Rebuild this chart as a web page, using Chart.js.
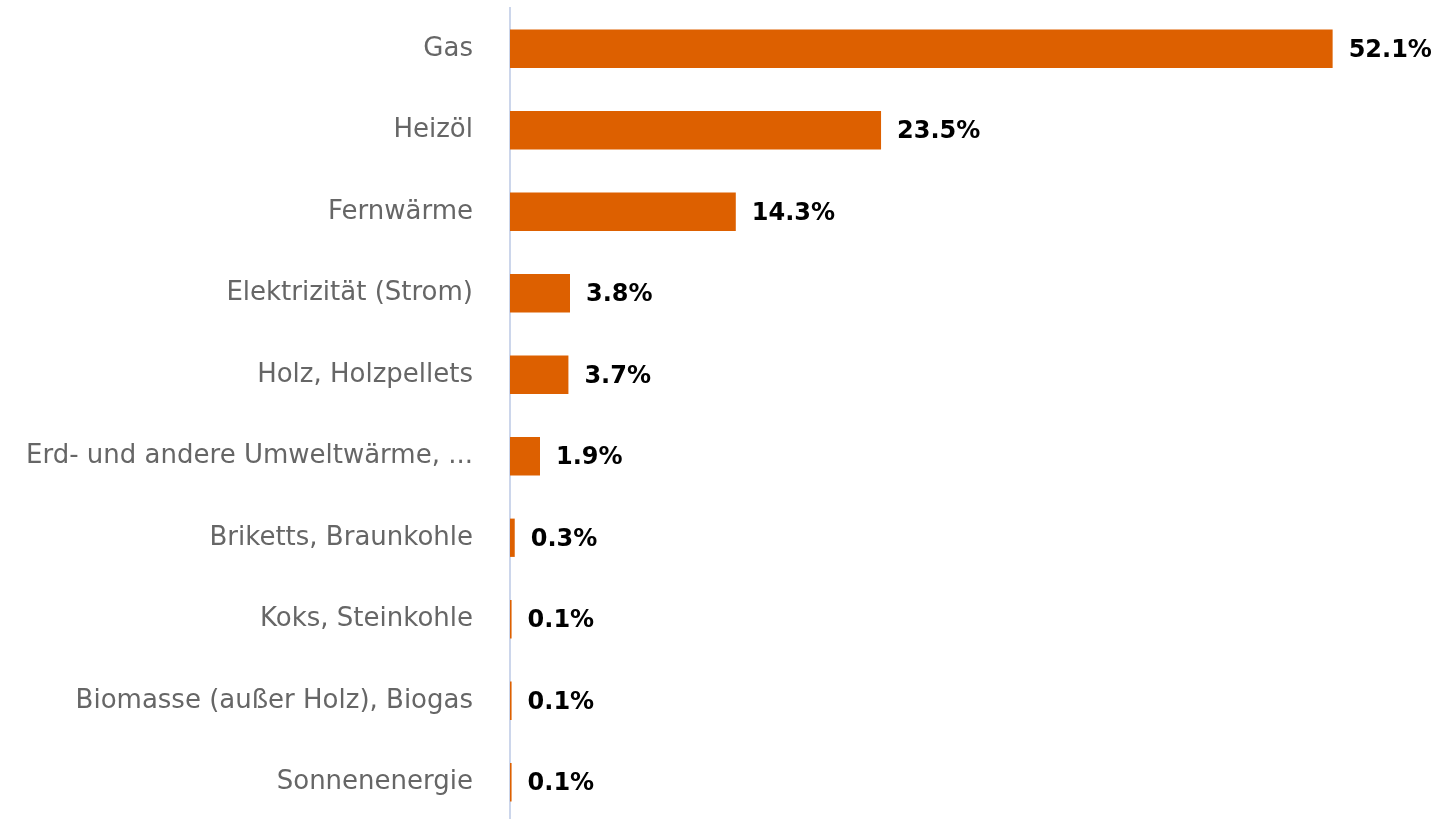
<!DOCTYPE html>
<html>
<head>
<meta charset="utf-8">
<script src="https://cdn.jsdelivr.net/npm/chart.js@4/dist/chart.umd.min.js"></script>
<style>
    html, body { margin: 0; padding: 0; background: #ffffff; overflow: hidden; }
    #wrap { position: relative; width: 1440px; height: 826px; }
</style>
</head>
<body>
<div id="wrap"><canvas id="myChart"></canvas></div>
<script>
// Energy sources and shares (%)
var categories = [
    "Gas",
    "Heizöl",
    "Fernwärme",
    "Elektrizität (Strom)",
    "Holz, Holzpellets",
    "Erd- und andere Umweltwärme, ...",
    "Briketts, Braunkohle",
    "Koks, Steinkohle",
    "Biomasse (außer Holz), Biogas",
    "Sonnenenergie"
];
var shares = [52.1, 23.5, 14.3, 3.8, 3.7, 1.9, 0.3, 0.1, 0.1, 0.1];

// Draws the value label at the end of each bar
var valueLabels = {
    id: "valueLabels",
    afterDatasetsDraw(chart) {
        const ctx = chart.ctx;
        const meta = chart.getDatasetMeta(0);
        ctx.save();
        ctx.font = "bold 24px 'DejaVu Sans'";
        ctx.fillStyle = "#000000";
        ctx.textAlign = "left";
        ctx.textBaseline = "middle";
        meta.data.forEach((bar, i) => {
            ctx.fillText(shares[i].toFixed(1) + "%", bar.x + 16, bar.y + 2);
        });
        ctx.restore();
    }
};

const config = {
    type: "bar",
    data: {
        labels: categories,
        datasets: [{
            data: shares,
            backgroundColor: "#dd6000",
            borderWidth: 0,
            categoryPercentage: 1,
            barPercentage: 0.47
        }]
    },
    options: {
        indexAxis: "y",
        responsive: true,
        maintainAspectRatio: false,
        animation: false,
        layout: { padding: { top: 8, right: 0, bottom: 3, left: 0 } },
        plugins: {
            legend: { display: false },
            tooltip: { enabled: false }
        },
        scales: {
            x: {
                min: 0,
                max: 58.9,
                display: false
            },
            y: {
                z: 1,
                grid: { display: false, drawTicks: false },
                border: { display: true, color: "#ccd6eb", width: 2 },
                ticks: {
                    color: "#666666",
                    padding: 37,
                    font: { family: "'DejaVu Sans'", size: 26 }
                },
                afterFit(scale) {
                    scale.width = 510;
                    scale.paddingTop = 0;
                    scale.paddingBottom = 0;
                }
            }
        }
    },
    plugins: [valueLabels]
};

var myChart = new Chart(document.getElementById("myChart"), config);
</script>
</body>
</html>
